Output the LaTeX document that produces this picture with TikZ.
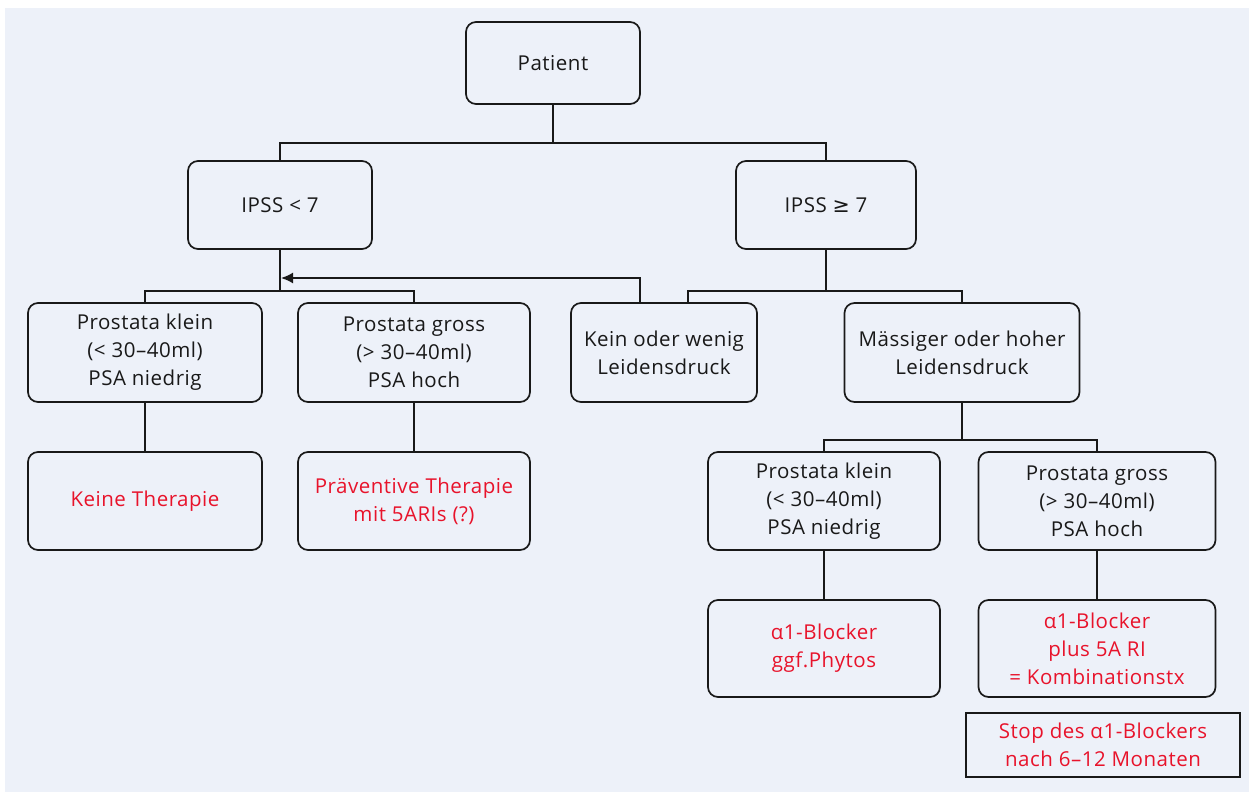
\documentclass[tikz,border=0pt]{standalone}
\usepackage{fontspec}
\setmainfont[LetterSpace=2.5]{Open Sans}
\newfontfamily\symf{DejaVu Sans}
\usetikzlibrary{arrows.meta}
\definecolor{bgblue}{HTML}{EDF1F9}
\definecolor{txtred}{HTML}{E8132B}
\begin{document}
\begin{tikzpicture}[x=1pt,y=-1pt,
  every node/.style={font=\fontsize{20.5}{28}\selectfont, align=center, text=black!90},
  rbox/.style={draw=black!90, line width=1.7pt, rounded corners=10pt, inner sep=0pt},
  redtxt/.style={text=txtred},
  conn/.style={draw=black!90, line width=1.7pt}]
\path[use as bounding box, fill=white] (0,0) rectangle (1249,792);
\fill[bgblue] (5,8) rectangle (1249,792);

\node[rbox, minimum width=174pt, minimum height=82pt] (P) at (553,63) {Patient};
\node[rbox, minimum width=184pt, minimum height=88pt] (I1) at (280,205) {IPSS < 7};
\node[rbox, minimum width=180pt, minimum height=88pt] (I2) at (826,205) {IPSS {\symf ≥} 7};

\node[rbox, minimum width=234pt, minimum height=99pt] (pk1) at (145,352.5) {Prostata klein\\(< 30–40ml)\\PSA niedrig};
\node[rbox, minimum width=232pt, minimum height=99pt] (pg1) at (414,352.5) {Prostata gross\\(> 30–40ml)\\PSA hoch};
\node[rbox, minimum width=186pt, minimum height=99pt] (kw) at (664,352.5) {Kein oder wenig\\Leidensdruck};
\node[rbox, minimum width=235pt, minimum height=99pt] (mh) at (962,352.5) {Mässiger oder hoher\\Leidensdruck};

\node[rbox, redtxt, minimum width=234pt, minimum height=98pt] (kt) at (145,501) {Keine Therapie};
\node[rbox, redtxt, minimum width=232pt, minimum height=98pt] (pt) at (414,501) {Präventive Therapie\\mit 5ARIs (?)};
\node[rbox, minimum width=232pt, minimum height=98pt] (pk2) at (824,501) {Prostata klein\\(< 30–40ml)\\PSA niedrig};
\node[rbox, minimum width=237pt, minimum height=98pt] (pg2) at (1097,501) {Prostata gross\\(> 30–40ml)\\PSA hoch};

\node[rbox, redtxt, minimum width=232pt, minimum height=97pt] (ab) at (824,648.5) {α1-Blocker\\ggf.Phytos};
\node[rbox, redtxt, minimum width=237pt, minimum height=97pt] (kb) at (1097,648.5) {α1-Blocker\\plus 5A RI\\= Kombinationstx};
\node[draw=black!90, line width=1.5pt, redtxt, inner sep=0pt, minimum width=274pt, minimum height=64pt] (st) at (1103,745) {Stop des α1-Blockers\\nach 6–12 Monaten};

% connectors
\coordinate (j1) at (553,143);
\coordinate (j2) at (280,291);
\coordinate (j3) at (826,291);
\coordinate (j4) at (962,440);
\coordinate (ar) at (281,278);
\draw[conn] (P.south) -- (j1);
\draw[conn] (I1.north) |- (j1) -| (I2.north);
\draw[conn] (I1.south) -- (j2);
\draw[conn] (pk1.north) |- (j2) -| (pg1.north);
\draw[conn] (I2.south) -- (j3);
\draw[conn] ([xshift=24pt]kw.north) |- (j3) -| (mh.north);
\draw[conn, -{Latex[length=12pt,width=11pt]}] ([xshift=-24pt]kw.north) |- (ar);
\draw[conn] (mh.south) -- (j4);
\draw[conn] (pk2.north) |- (j4) -| (pg2.north);
\draw[conn] (pk1.south) -- (kt.north);
\draw[conn] (pg1.south) -- (pt.north);
\draw[conn] (pk2.south) -- (ab.north);
\draw[conn] (pg2.south) -- (kb.north);
\end{tikzpicture}
\end{document}
